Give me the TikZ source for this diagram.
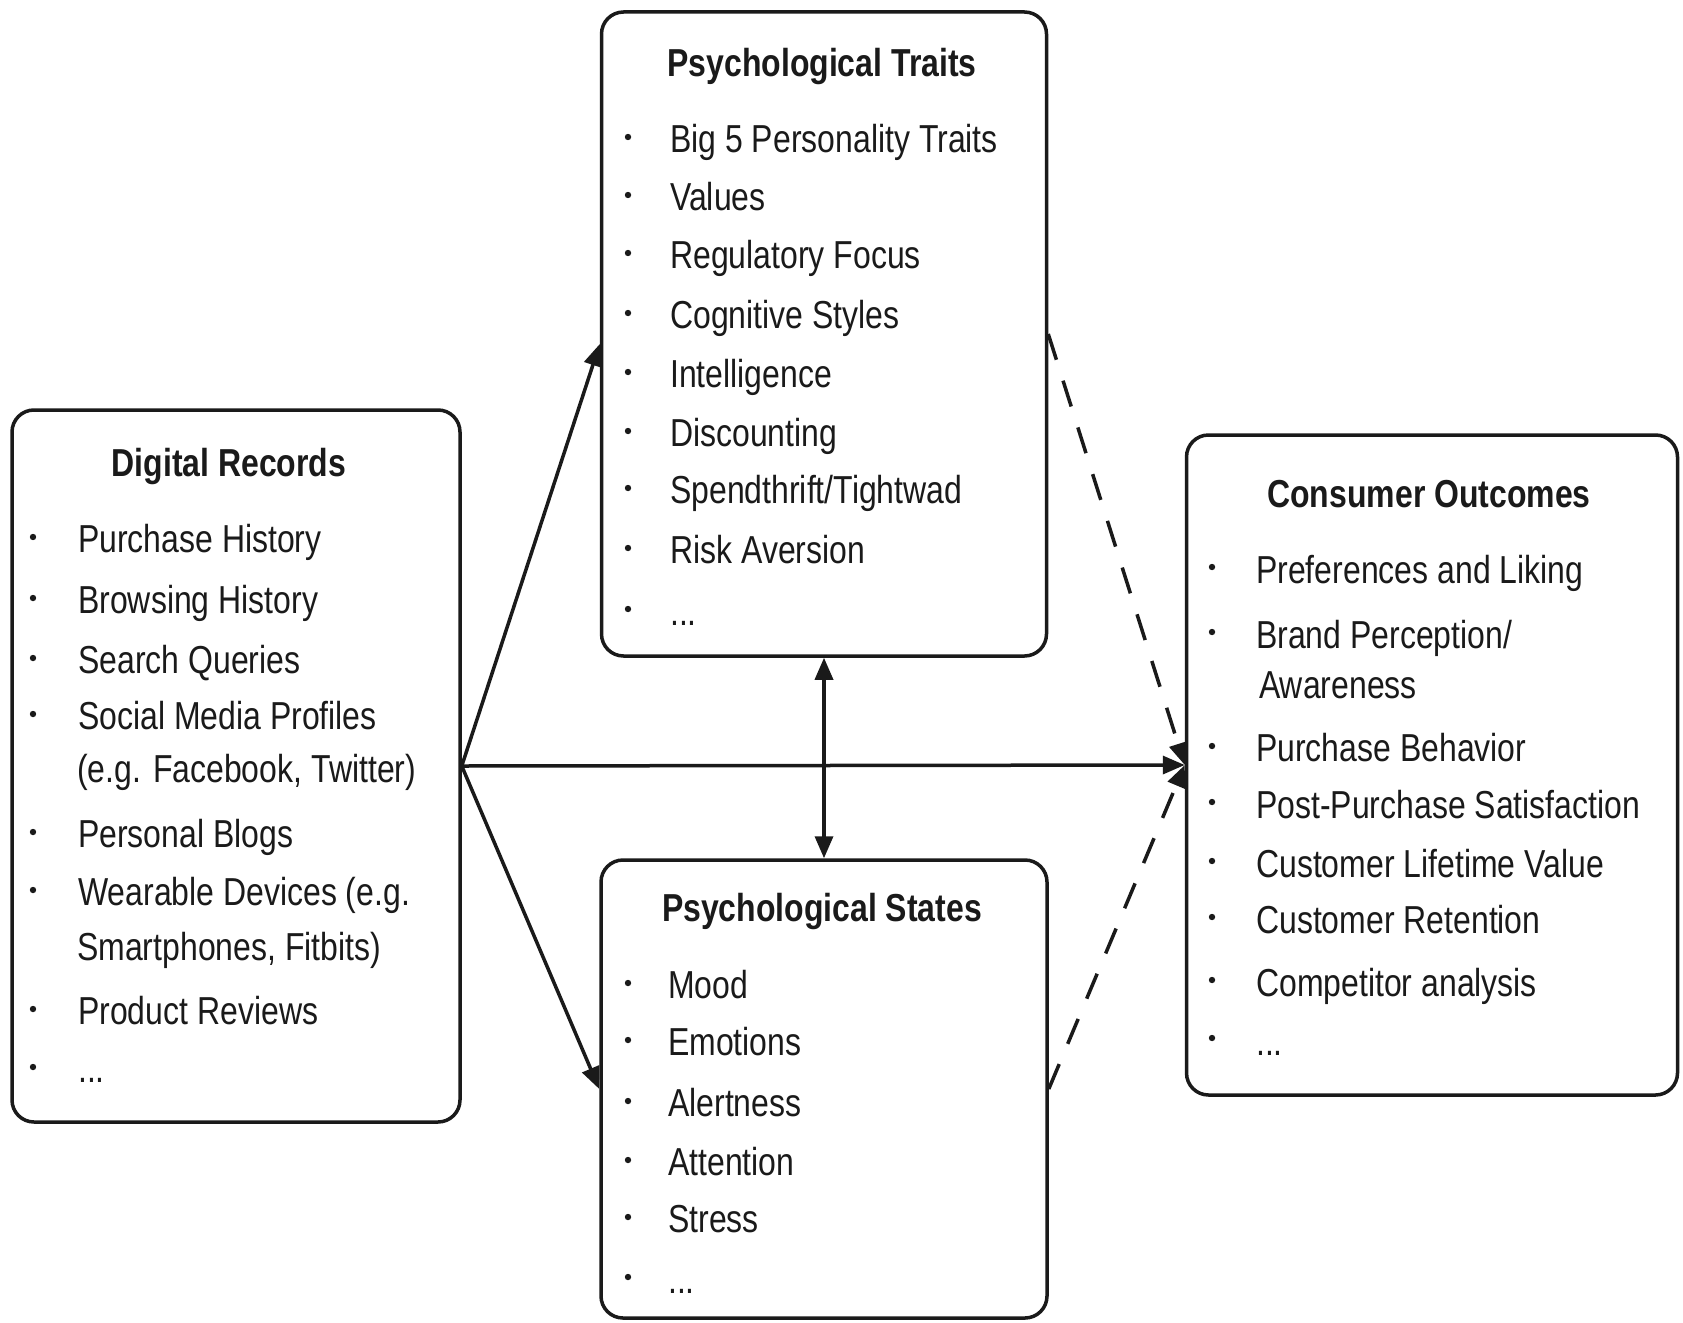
\documentclass[tikz,border=0pt]{standalone}
\usepackage{fontspec}
\setmainfont{Liberation Sans}[FakeStretch=0.82]
\usetikzlibrary{arrows.meta}
\definecolor{ink}{HTML}{1A1A1A}
\newcommand\itemfont{\fontsize{39}{47}\selectfont}
\newcommand\titlefont{\fontsize{39}{47}\selectfont\bfseries}
\tikzset{
  box/.style={draw=ink, line width=3.5pt, rounded corners=22pt, inner sep=0pt},
  itm/.style={anchor=base west, inner sep=0pt, font=\itemfont, text=ink},
  ttl/.style={anchor=base, inner sep=0pt, font=\titlefont, text=ink},
  conn/.style={draw=ink, line width=3.5pt, -{Triangle[length=22pt,width=18pt]}},
  biconn/.style={draw=ink, line width=3.5pt, {Triangle[length=22pt,width=18pt]}-{Triangle[length=22pt,width=18pt]}},
  dconn/.style={conn, dash pattern=on 27pt off 22pt},
  bul/.style={fill=ink}
}
\begin{document}
\begin{tikzpicture}[x=1pt,y=-1pt]
\useasboundingbox (0,0) rectangle (1683,1322);
\fill[white] (0,0) rectangle (1683,1322);

% boxes
\node[box, minimum width=448pt, minimum height=712pt] (dr) at (236,766) {};
\node[box, minimum width=445pt, minimum height=644pt] (traits) at (824,334) {};
\node[box, minimum width=446pt, minimum height=458pt] (states) at (824,1089) {};
\node[box, minimum width=491pt, minimum height=660pt] (cons) at (1432,765) {};

% connectors
\draw[conn] (dr.east) -- ([yshift=-10pt]traits.west);
\draw[conn] (dr.east) -- (states.west);
\draw[conn] (dr.east) -- (cons.west);
\draw[biconn] (traits.south) -- (states.north);
\draw[dconn] (traits.east) -- (cons.west);
\draw[dconn] (states.east) -- (cons.west);

% Digital Records
\node[ttl] (drt) at (229,476) {Digital Records};
\node[itm] (dr1) at (78,552) {Purchase History};
\node[itm] (dr2) at (78,613) {Browsing History};
\node[itm] (dr3) at (78,673) {Search Queries};
\node[itm] (dr4) at (78,729) {Social Media Profiles};
\node[itm] (dr4b) at (77,782) {(e.g. Facebook, Twitter)};
\node[itm] (dr5) at (78,847) {Personal Blogs};
\node[itm] (dr6) at (78,905) {Wearable Devices (e.g.};
\node[itm] (dr6b) at (77,960) {Smartphones, Fitbits)};
\node[itm] (dr7) at (78,1024) {Product Reviews};
\node[itm] (dr8) at (78,1082) {...};
\foreach \y in {537,598,658,714,832,890,1009,1067} \fill[bul] (33,\y) circle (3.2pt);

% Psychological Traits
\node[ttl] (trt) at (822,76) {Psychological Traits};
\node[itm] (tr1) at (670,152) {Big 5 Personality Traits};
\node[itm] (tr2) at (670,210) {Values};
\node[itm] (tr3) at (670,268) {Regulatory Focus};
\node[itm] (tr4) at (670,328) {Cognitive Styles};
\node[itm] (tr5) at (670,387) {Intelligence};
\node[itm] (tr6) at (670,446) {Discounting};
\node[itm] (tr7) at (670,503) {Spendthrift/Tightwad};
\node[itm] (tr8) at (670,563) {Risk Aversion};
\node[itm] (tr9) at (670,625) {...};
\foreach \y in {137,195,253,313,372,431,488,548,609} \fill[bul] (628,\y) circle (3.2pt);

% Psychological States
\node[ttl] (stt) at (822,921) {Psychological States};
\node[itm] (st1) at (668,998) {Mood};
\node[itm] (st2) at (668,1055) {Emotions};
\node[itm] (st3) at (668,1116) {Alertness};
\node[itm] (st4) at (668,1175) {Attention};
\node[itm] (st5) at (668,1232) {Stress};
\node[itm] (st6) at (668,1293) {...};
\foreach \y in {983,1040,1101,1160,1217,1277} \fill[bul] (628,\y) circle (3.2pt);

% Consumer Outcomes
\node[ttl] (cot) at (1429,507) {Consumer Outcomes};
\node[itm] (co1) at (1256,583) {Preferences and Liking};
\node[itm] (co2) at (1256,648) {Brand Perception/};
\node[itm] (co2b) at (1259,698) {Awareness};
\node[itm] (co3) at (1256,761) {Purchase Behavior};
\node[itm] (co4) at (1256,818) {Post-Purchase Satisfaction};
\node[itm] (co5) at (1256,877) {Customer Lifetime Value};
\node[itm] (co6) at (1256,933) {Customer Retention};
\node[itm] (co7) at (1256,996) {Competitor analysis};
\node[itm] (co8) at (1256,1055) {...};
\foreach \y in {567,632,746,802,861,917,980,1038} \fill[bul] (1212,\y) circle (3.2pt);
\end{tikzpicture}
\end{document}
